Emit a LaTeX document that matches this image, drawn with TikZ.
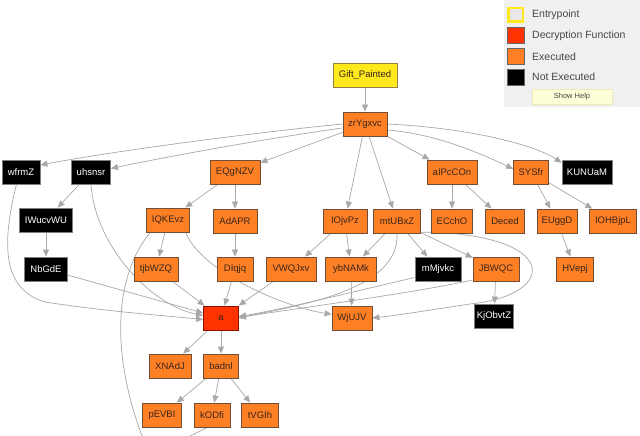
\documentclass[tikz,border=0pt]{standalone}
\usepackage{fontspec}
\setmainfont{Liberation Sans}
\usetikzlibrary{arrows.meta,backgrounds}
\definecolor{execc}{RGB}{255,127,36}
\definecolor{decc}{RGB}{255,51,0}
\definecolor{entc}{RGB}{255,232,28}
\definecolor{bordc}{RGB}{112,78,58}
\definecolor{txtc}{RGB}{55,38,28}
\definecolor{edgec}{RGB}{168,168,168}
\definecolor{legbg}{RGB}{240,240,240}
\definecolor{legtxt}{RGB}{70,70,70}
\definecolor{helpbg}{RGB}{255,255,215}
\definecolor{helpbd}{RGB}{240,232,180}
\begin{document}
\begin{tikzpicture}[x=1pt,y=-1pt,
  box/.style={draw=bordc, line width=0.8pt, minimum height=24pt, inner sep=0pt, font=\fontsize{9.5}{11}\selectfont},
  exec/.style={box, fill=execc, text=txtc},
  notex/.style={box, fill=black, text=white, draw=gray},
  decr/.style={box, fill=decc, text=txtc, draw={rgb,255:red,130;green,20;blue,0}},
  entry/.style={box, fill=entc, text=txtc, draw={rgb,255:red,150;green,130;blue,60}},
  edge/.style={draw=edgec, line width=0.7pt, -{Triangle[length=7pt,width=6pt]}},
  plain/.style={draw=edgec, line width=0.7pt},
  swatch/.style={minimum width=17pt, minimum height=16pt, inner sep=0pt},
  legtext/.style={anchor=west, inner sep=0pt, text=legtxt, font=\fontsize{10.5}{12}\selectfont}
]
\useasboundingbox (0,0) rectangle (640,436);

% legend
\fill[legbg] (504,0) rectangle (640,107);
\node[swatch, fill={rgb,255:red,232;green,232;blue,232}, draw=entc, line width=2.5pt, minimum width=14.5pt, minimum height=13.5pt] (sw1) at (515.5,15) {};
\node[swatch, fill=decc, draw=black!60, line width=0.6pt] (sw2) at (515.5,35) {};
\node[swatch, fill=execc, draw=black!60, line width=0.6pt] (sw3) at (515.5,56) {};
\node[swatch, fill=black, draw=black!60, line width=0.6pt] (sw4) at (515.5,77) {};
\node[legtext] (lt1) at (532,15) {Entrypoint};
\node[legtext] (lt2) at (532,35.5) {Decryption Function};
\node[legtext] (lt3) at (532,56.5) {Executed};
\node[legtext] (lt4) at (532,77) {Not Executed};
\node[draw=helpbd, fill=helpbg, minimum width=80pt, minimum height=15pt, inner sep=0pt, text=legtxt, font=\fontsize{7.5}{9}\selectfont] (help) at (572,96.5) {Show Help};

% nodes
\node[entry, minimum width=64pt] (gift) at (365,75) {Gift\_Painted};
\node[exec, minimum width=44pt] (zry) at (365,124) {zrYgxvc};
\node[notex, minimum width=38pt] (wfr) at (21,172) {wfrmZ};
\node[notex, minimum width=39pt] (uhs) at (91,172) {uhsnsr};
\node[exec, minimum width=50pt] (eqg) at (235,172) {EQgNZV};
\node[exec, minimum width=50pt] (aip) at (452,172) {aIPcCOn};
\node[exec, minimum width=35pt] (sys) at (531,172) {SYSfr};
\node[notex, minimum width=50pt] (kun) at (587,172) {KUNUaM};
\node[notex, minimum width=53pt] (iwu) at (46,220) {IWucvWU};
\node[exec, minimum width=43pt] (iqk) at (168,220) {IQKEvz};
\node[exec, minimum width=44pt] (ada) at (235,221) {AdAPR};
\node[exec, minimum width=44pt] (ioj) at (345,221) {IOjvPz};
\node[exec, minimum width=47pt] (mtu) at (397,221) {mtUBxZ};
\node[exec, minimum width=41pt] (ecc) at (452,221) {ECchO};
\node[exec, minimum width=39pt] (dec) at (505,221) {Deced};
\node[exec, minimum width=40pt] (eug) at (557,221) {EUggD};
\node[exec, minimum width=47pt] (ioh) at (613,221) {IOHBjpL};
\node[notex, minimum width=43pt] (nbg) at (46,269) {NbGdE};
\node[exec, minimum width=44pt] (tjb) at (156,269) {tjbWZQ};
\node[exec, minimum width=36pt] (diq) at (235,269) {DIqjq};
\node[exec, minimum width=50pt] (vwq) at (291,269) {VWQJxv};
\node[exec, minimum width=51pt] (ybn) at (351,269) {ybNAMk};
\node[notex, minimum width=46pt] (mmj) at (438,269) {mMjvkc};
\node[exec, minimum width=46pt] (jbw) at (496,269) {JBWQC};
\node[exec, minimum width=37pt] (hve) at (575,269) {HVepj};
\node[decr, minimum width=35pt] (a) at (221,318) {a};
\node[exec, minimum width=40pt] (wju) at (352,318) {WjUJV};
\node[notex, minimum width=39pt] (kjo) at (494,316) {KjObvtZ};
\node[exec, minimum width=42pt] (xna) at (170,366) {XNAdJ};
\node[exec, minimum width=35pt] (bad) at (221,366) {badnl};
\node[exec, minimum width=39pt] (pev) at (162,415) {pEVBI};
\node[exec, minimum width=36pt] (kod) at (212,415) {kODfi};
\node[exec, minimum width=37pt] (tvg) at (260,415) {tVGIh};
\coordinate (off1) at (142,436);
\coordinate (off2) at (190,436);

% edges, drawn beneath the nodes
\begin{pgfonlayer}{background}
\fill[white] (0,0) rectangle (640,436);
\draw[edge] (gift) -- (zry);
\draw[edge] (zry.west) .. controls (260,132) and (120,150) .. (wfr.20);
\draw[edge] (zry.190) .. controls (270,138) and (170,156) .. (uhs.10);
\draw[edge] (zry) -- (eqg);
\draw[edge] (zry) -- (ioj);
\draw[edge] (zry) -- (mtu);
\draw[edge] (zry) -- (aip);
\draw[edge] (zry.345) .. controls (440,134) and (490,158) .. (sys.170);
\draw[edge] (zry.east) .. controls (470,128) and (535,145) .. (kun.160);
\draw[edge] (uhs) -- (iwu);
\draw[edge] (uhs.south) .. controls (95,245) and (150,305) .. (a.172);
\draw[edge] (wfr.250) .. controls (0,250) and (5,290) .. (45,302) .. controls (110,312) and (170,316) .. (a.185);
\draw[edge] (iwu) -- (nbg);
\draw[edge] (nbg) -- (a);
\draw[edge] (tjb) -- (a);
\draw[edge] (diq) -- (a);
\draw[edge] (eqg) -- (iqk);
\draw[edge] (eqg) -- (ada);
\draw[edge] (ada) -- (diq);
\draw[edge] (iqk) -- (tjb);
\draw[edge] (iqk.-35) .. controls (200,270) and (280,306) .. (wju.170);
\draw[plain] (iqk.215) .. controls (115,275) and (110,350) .. (off1);
\draw[plain] (kod.250) -- (off2);
\draw[edge] (ioj) -- (vwq);
\draw[edge] (ioj) -- (ybn);
\draw[edge] (mtu) -- (ybn);
\draw[edge] (mtu) -- (mmj);
\draw[edge] (mtu) -- (jbw);
\draw[edge] (vwq) -- (a);
\draw[edge] (ybn) -- (wju);
\draw[edge] (mtu.south) .. controls (400,290) and (300,305) .. (a.east);
\draw[edge] (mmj.200) .. controls (360,290) and (290,308) .. (a.5);
\draw[edge] (jbw.205) .. controls (420,292) and (300,308) .. (a.2);
\draw[edge] (mtu.-25) .. controls (560,233) and (560,295) .. (470,304) .. controls (430,310) and (400,315) .. (wju.east);
\draw[edge] (jbw) -- (kjo);
\draw[edge] (aip) -- (ecc);
\draw[edge] (aip) -- (dec);
\draw[edge] (sys) -- (eug);
\draw[edge] (sys) -- (ioh);
\draw[edge] (eug) -- (hve);
\draw[edge] (a) -- (xna);
\draw[edge] (a) -- (bad);
\draw[edge] (bad) -- (pev);
\draw[edge] (bad) -- (kod);
\draw[edge] (bad) -- (tvg);
\end{pgfonlayer}
\end{tikzpicture}
\end{document}
